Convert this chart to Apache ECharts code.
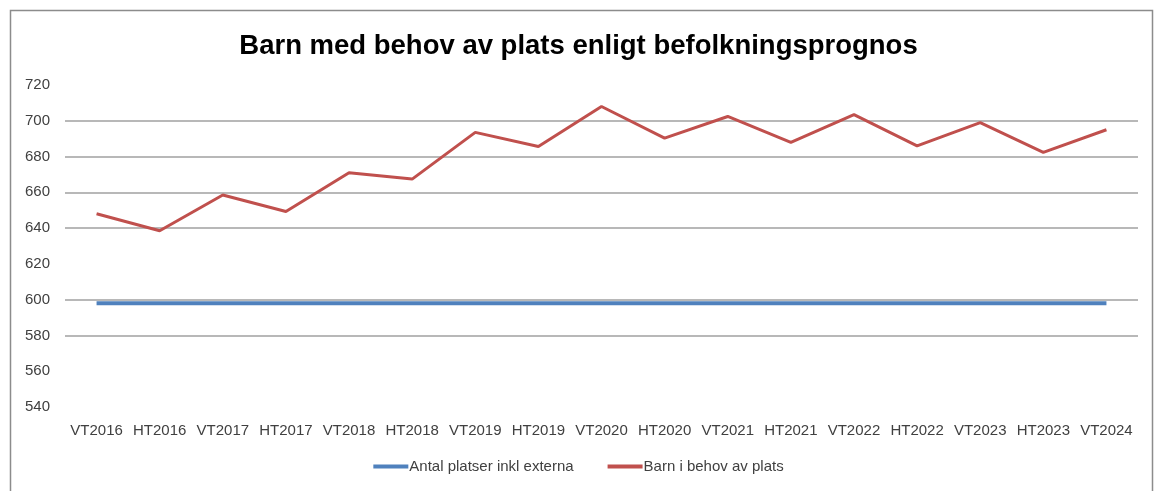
<!DOCTYPE html>
<html>
<head>
<meta charset="utf-8">
<script src="https://cdn.jsdelivr.net/npm/echarts@6/dist/echarts.min.js"></script>
<style>
html,body{margin:0;padding:0;background:#fff;}
#c{width:1157px;height:491px;}
</style>
</head>
<body>
<div id="c"></div>
<script>
const categories = ['VT2016','HT2016','VT2017','HT2017','VT2018','HT2018','VT2019','HT2019','VT2020','HT2020','VT2021','HT2021','VT2022','HT2022','VT2023','HT2023','VT2024'];
const antalPlatser = [598,598,598,598,598,598,598,598,598,598,598,598,598,598,598,598,598];
const barnBehov = [648,638.5,658.5,649.3,671,667.4,693.5,685.6,708,690.3,702.4,687.9,703.4,686,699,682.3,695];
const yTicks = {min:540, max:720, interval:20};
const gridValues = [580,600,640,660,680,700];
const titleText = 'Barn med behov av plats enligt befolkningsprognos';
const seriesNames = ['Antal platser inkl externa','Barn i behov av plats'];

const chart = echarts.init(document.getElementById('c'));
chart.setOption({
  backgroundColor:'#fff',
  animation:false,
  graphic:[{type:'rect',shape:{x:10.5,y:10.5,width:1142,height:520},style:{fill:'none',stroke:'#8c8c8c',lineWidth:1.5},silent:true}],
  title:{text:titleText,left:'center',top:27,textStyle:{fontFamily:'Liberation Sans',fontWeight:'bold',fontSize:27.5,color:'#000'}},
  legend:{bottom:12,left:'center',itemWidth:35,itemHeight:4,itemGap:34,icon:'rect',
    textStyle:{fontFamily:'Liberation Sans',fontSize:15,color:'#404040',padding:[0,0,0,-4]},
    data:seriesNames},
  grid:{left:65,right:19,top:85,bottom:84},
  xAxis:{type:'category',data:categories,boundaryGap:true,
    axisLine:{show:false},axisTick:{show:false},
    axisLabel:{margin:16,fontFamily:'Liberation Sans',fontSize:15,color:'#404040',interval:0}},
  yAxis:{type:'value',min:yTicks.min,max:yTicks.max,interval:yTicks.interval,
    axisLine:{show:false},axisTick:{show:false},splitLine:{show:false},
    axisLabel:{margin:15,fontFamily:'Liberation Sans',fontSize:15,color:'#404040'}},
  series:[
    {name:seriesNames[0],type:'line',data:antalPlatser,symbol:'none',z:3,
      lineStyle:{color:'#4F81BD',width:4},itemStyle:{color:'#4F81BD'},
      markLine:{silent:true,symbol:'none',label:{show:false},z:1,
        lineStyle:{color:'#a0a0a0',width:1.5,type:'solid'},
        data:gridValues.map(v=>({yAxis:v}))}},
    {name:seriesNames[1],type:'line',data:barnBehov,symbol:'none',z:4,
      lineStyle:{color:'#C0504D',width:3},itemStyle:{color:'#C0504D'}}
  ]
});
</script>
</body>
</html>
